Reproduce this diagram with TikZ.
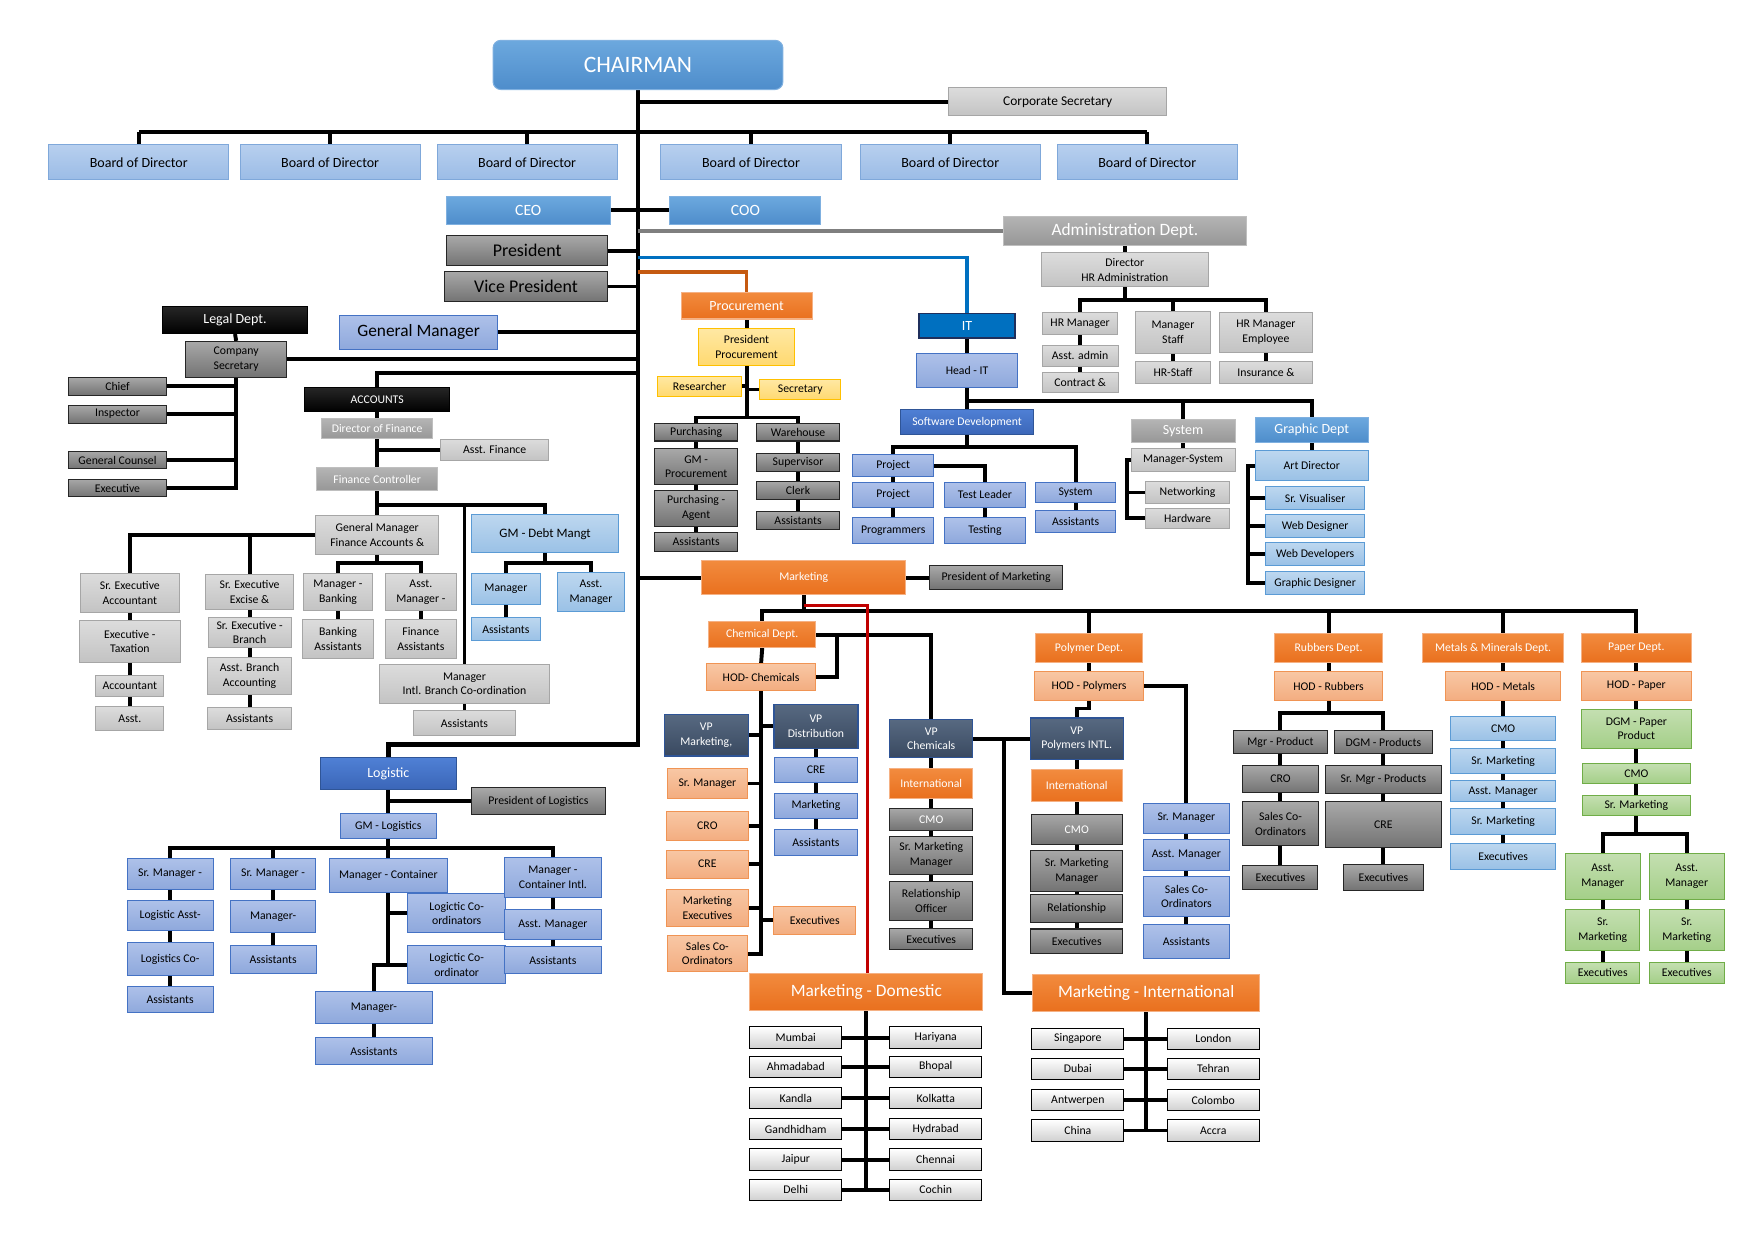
\documentclass[tikz,border=0pt]{standalone}
\usepackage{fontspec}
\setmainfont{Carlito}
\usetikzlibrary{calc}
\pgfdeclarelayer{bg}
\pgfsetlayers{bg,main}
\definecolor{bodT}{HTML}{B7CFEE}\definecolor{bodB}{HTML}{9BBCE6}\definecolor{bodD}{HTML}{7FA8DA}
\definecolor{chT}{HTML}{6CA8DE}\definecolor{chB}{HTML}{4E8DCB}\definecolor{chD}{HTML}{7FB0E0}
\definecolor{dgT}{HTML}{A8A8A8}\definecolor{dgB}{HTML}{737373}\definecolor{dgD}{HTML}{262626}
\definecolor{mgT}{HTML}{B4B4B4}\definecolor{mgB}{HTML}{979797}\definecolor{mgD}{HTML}{BFBFBF}
\definecolor{lgT}{HTML}{DCDCDC}\definecolor{lgB}{HTML}{C3C3C3}\definecolor{lgD}{HTML}{A6A6A6}
\definecolor{peT}{HTML}{AEC1E9}\definecolor{peB}{HTML}{8EA8DC}\definecolor{peD}{HTML}{4472C4}
\definecolor{roT}{HTML}{4F80D5}\definecolor{roB}{HTML}{3B66B8}\definecolor{roD}{HTML}{2F5597}
\definecolor{itF}{HTML}{0070C0}\definecolor{itD}{HTML}{1F2F5C}
\definecolor{orT}{HTML}{F28B3E}\definecolor{orB}{HTML}{E9701E}\definecolor{orD}{HTML}{F5B184}
\definecolor{loT}{HTML}{F8C7A4}\definecolor{loB}{HTML}{F3AD80}\definecolor{loD}{HTML}{F09454}
\definecolor{yeT}{HTML}{FFE8A3}\definecolor{yeB}{HTML}{FFD970}\definecolor{yeD}{HTML}{FFC000}
\definecolor{nvT}{HTML}{576981}\definecolor{nvB}{HTML}{394960}\definecolor{nvD}{HTML}{2E5496}
\definecolor{skT}{HTML}{BDD7EF}\definecolor{skB}{HTML}{9AC1E6}\definecolor{skD}{HTML}{5B9BD5}
\definecolor{grT}{HTML}{C4DFB1}\definecolor{grB}{HTML}{A4CF88}\definecolor{grD}{HTML}{70AD47}
\definecolor{ciB}{HTML}{D0D0D0}\definecolor{bkT}{HTML}{262626}
\definecolor{admL}{HTML}{7F7F7F}\definecolor{prL}{HTML}{C55A11}\definecolor{redL}{HTML}{C00000}
\tikzset{
  sz/.style 2 args={minimum width=#1pt,minimum height=#2pt},
  bx/.style={draw,rectangle,inner sep=0pt,align=center,line width=0.9pt,font=\fontsize{10.5}{13}\selectfont},
  fM/.style={font=\fontsize{12.5}{15}\selectfont},
  fN/.style={font=\fontsize{14}{16}\selectfont},
  fL/.style={font=\fontsize{15.5}{18}\selectfont},
  shd/.style n args={3}{top color=#1,bottom color=#2,draw=#3},
  bod/.style={bx,shd={bodT}{bodB}{bodD},fM},
  chairb/.style={bx,shd={chT}{chB}{chD},text=white},
  dgray/.style={bx,shd={dgT}{dgB}{dgD}},
  dgrayW/.style={dgray,text=white},
  mgray/.style={bx,shd={mgT}{mgB}{mgD},text=white},
  lgray/.style={bx,shd={lgT}{lgB}{lgD}},
  peri/.style={bx,shd={peT}{peB}{peD}},
  royal/.style={bx,shd={roT}{roB}{roD},text=white},
  itb/.style={bx,fill=itF,draw=itD,line width=1.3pt,text=white},
  orng/.style={bx,shd={orT}{orB}{orD},text=white},
  lorng/.style={bx,shd={loT}{loB}{loD}},
  yel/.style={bx,shd={yeT}{yeB}{yeD}},
  navy/.style={bx,shd={nvT}{nvB}{nvD},text=white,line width=1.2pt},
  sky/.style={bx,shd={skT}{skB}{skD}},
  grn/.style={bx,shd={grT}{grB}{grD}},
  city/.style={bx,shd={white}{ciB}{black},sz={82}{19}},
  blk/.style={bx,shd={bkT}{black}{black},text=white},
  ln/.style={line width=3.5pt,draw=black},
  lnG/.style={line width=3.5pt,draw=admL},
  lnB/.style={line width=3pt,draw=itF},
  lnO/.style={line width=3pt,draw=prL},
  lnR/.style={line width=3pt,draw=redL}
}
\begin{document}
\begin{tikzpicture}[x=1pt,y=-1pt]
\useasboundingbox (0,0) rectangle (1568,1109);
\begin{pgfonlayer}{bg}
\fill[white] (0,0) rectangle (1568,1109);
\end{pgfonlayer}
% ---------- top ----------
\node[chairb,sz={259}{44},rounded corners=7pt,font=\fontsize{21}{24}\selectfont] (chair) at (570,58) {CHAIRMAN};
\node[lgray,sz={195}{25},font=\fontsize{12}{14}\selectfont] (corp) at (945,91) {Corporate Secretary};
\foreach \i/\x in {1/124,2/295,3/471,4/671,5/849,6/1025}
  \node[bod,sz={161}{31}] (bod\i) at (\x,145) {Board of Director};
\node[chairb,sz={146}{25},fN] (ceo) at (472,188) {CEO};
\node[chairb,sz={135}{25},fN] (coo) at (666,188) {COO};
\node[mgray,sz={217}{26},fL] (adm) at (1005,206) {Administration Dept.};
\node[dgray,sz={144}{27},font=\fontsize{16}{18}\selectfont] (pres) at (471,224) {President};
\node[dgray,sz={145}{27},font=\fontsize{16}{18}\selectfont] (vp) at (470,256) {Vice President};
\coordinate (tb) at (570,665);
\coordinate (bbus) at (570,118);
\coordinate (itj) at (570,230);
\coordinate (prj) at (570,243);
\coordinate (accj) at (570,333);
% ---------- procurement ----------
\node[orng,sz={117}{24},fM] (proc) at (667,273) {Procurement};
\node[yel,sz={85}{33}] (pp) at (667,310) {President\\Procurement};
\node[yel,sz={75}{18}] (res) at (625,345) {Researcher};
\node[yel,sz={72}{18}] (sec) at (715,348) {Secretary};
\coordinate (pbus) at (667,373);
\node[dgray,sz={74}{16}] (purch) at (622,386) {Purchasing};
\node[dgray,sz={74}{32}] (gmp) at (622,417) {GM -\\Procurement};
\node[dgray,sz={74}{32}] (pag) at (622,454) {Purchasing -\\Agent};
\node[dgray,sz={74}{17}] (pas) at (622,484) {Assistants};
\node[dgray,sz={74}{16}] (wh) at (713,386) {Warehouse};
\node[dgray,sz={74}{16}] (sup) at (713,413) {Supervisor};
\node[dgray,sz={74}{16}] (clerk) at (713,438) {Clerk};
\node[dgray,sz={74}{16}] (was) at (713,465) {Assistants};
% ---------- IT ----------
\node[itb,sz={86}{22},fM] (it) at (864,291) {IT};
\node[peri,sz={91}{31}] (hit) at (864,331) {Head - IT};
\coordinate (itbus) at (864,358);
\node[royal,sz={119}{23}] (sd) at (864,377) {Software Development};
\coordinate (sdbus) at (864,399);
\node[peri,sz={72}{20}] (proj1) at (798,416) {Project};
\node[peri,sz={72}{22}] (proj2) at (798,442) {Project};
\node[peri,sz={72}{23}] (prog) at (798,474) {Programmers};
\node[peri,sz={73}{22}] (tl) at (880,442) {Test Leader};
\node[peri,sz={73}{23}] (tst) at (880,474) {Testing};
\node[peri,sz={72}{18}] (sysb) at (961,440) {System};
\node[peri,sz={72}{20}] (sysa) at (961,466) {Assistants};
% ---------- administration ----------
\node[lgray,sz={149}{30}] (dhr) at (1005,241) {Director\\HR Administration};
\coordinate (hrbus) at (1005,268);
\node[lgray,sz={67}{20}] (hrm) at (965,289) {HR Manager};
\node[lgray,sz={68}{18}] (aad) at (965,318) {Asst. admin};
\node[lgray,sz={68}{18}] (con) at (965,342) {Contract \&};
\node[lgray,sz={67}{37}] (mst) at (1048,297) {Manager\\Staff};
\node[lgray,sz={67}{20}] (hrs) at (1048,333) {HR-Staff};
\node[lgray,sz={83}{36}] (hre) at (1131,297) {HR Manager\\Employee};
\node[lgray,sz={83}{20}] (ins) at (1131,333) {Insurance \&};
\node[mgray,sz={93}{20},fM] (sysg) at (1057,385) {System};
\node[lgray,sz={93}{21}] (msys) at (1057,411) {Manager-System};
\node[lgray,sz={75}{19}] (net) at (1061,440) {Networking};
\node[lgray,sz={75}{18}] (hw) at (1061,463) {Hardware};
\coordinate (sv) at (1007,463);
\node[chairb,sz={101}{22},fM] (gd) at (1172,384) {Graphic Dept};
\node[sky,sz={101}{27}] (ad) at (1172,416) {Art Director};
\node[sky,sz={89}{21}] (svis) at (1175,445) {Sr. Visualiser};
\node[sky,sz={89}{21}] (wd) at (1175,470) {Web Designer};
\node[sky,sz={89}{20}] (wdev) at (1175,495) {Web Developers};
\node[sky,sz={89}{20}] (gdes) at (1175,521) {Graphic Designer};
\coordinate (gv) at (1115,521);
% ---------- legal ----------
\node[blk,sz={129}{24},fM] (legal) at (210,286) {Legal Dept.};
\node[dgray,sz={90}{32}] (csec) at (211,321) {Company\\Secretary};
\node[peri,sz={141}{31},fL] (gm) at (374,297) {General Manager};
\node[dgray,sz={87}{16}] (chief) at (105,345) {Chief};
\node[dgray,sz={87}{16}] (insp) at (105,370) {Inspector};
\node[dgray,sz={87}{16}] (gcoun) at (105,411) {General Counsel};
\node[dgray,sz={87}{16}] (exe) at (105,436) {Executive};
\coordinate (lv) at (211,436);
% ---------- accounts ----------
\node[blk,sz={130}{22}] (acc) at (337,357) {ACCOUNTS};
\node[mgray,sz={99}{18}] (dof) at (337,383) {Director of Finance};
\node[lgray,sz={96}{19}] (af) at (442,402) {Asst. Finance};
\node[mgray,sz={108}{20}] (fc) at (337,428) {Finance Controller};
\coordinate (fbus) at (337,451);
\node[lgray,sz={110}{34}] (gmfa) at (337,478) {General Manager\\Finance Accounts \&};
\node[sky,sz={131}{34},font=\fontsize{11.5}{13}\selectfont] (gmd) at (487,477) {GM - Debt Mangt};
\node[lgray,sz={88}{35}] (sea) at (116,530) {Sr. Executive\\Accountant};
\node[lgray,sz={90}{37}] (ext) at (116,573) {Executive -\\Taxation};
\node[lgray,sz={61}{19}] (acct) at (116,613) {Accountant};
\node[lgray,sz={61}{21}] (asst) at (116,642) {Asst.};
\node[lgray,sz={78}{31}] (sex) at (223,529) {Sr. Executive\\Excise \&};
\node[lgray,sz={74}{27}] (seb) at (223,565) {Sr. Executive -\\Branch};
\node[lgray,sz={75}{33}] (aba) at (223,604) {Asst. Branch\\Accounting};
\node[lgray,sz={75}{19}] (fas) at (223,642) {Assistants};
\coordinate (gbus) at (337,503);
\node[lgray,sz={62}{33}] (mb) at (302,529) {Manager -\\Banking};
\node[lgray,sz={63}{35}] (ba) at (302,571) {Banking\\Assistants};
\node[lgray,sz={64}{33}] (am) at (376,529) {Asst.\\Manager -};
\node[lgray,sz={63}{35}] (fa) at (376,571) {Finance\\Assistants};
\node[lgray,sz={151}{35}] (mintl) at (415,611) {Manager\\Intl. Branch Co-ordination};
\node[lgray,sz={92}{23}] (mia) at (415,646) {Assistants};
\coordinate (dbus) at (487,503);
\node[sky,sz={62}{28}] (dm) at (452,526) {Manager};
\node[sky,sz={60}{35}] (dam) at (528,529) {Asst.\\Manager};
\node[sky,sz={62}{21}] (das) at (452,562) {Assistants};
% ---------- logistics ----------
\node[royal,sz={122}{28},fM] (logi) at (347,691) {Logistic};
\node[dgray,sz={120}{24}] (pol) at (481,716) {President of Logistics};
\node[peri,sz={86}{23}] (gml) at (347,738) {GM - Logistics};
\coordinate (lbus) at (347,758);
\node[peri,sz={77}{28}] (lm1) at (152,781) {Sr. Manager -};
\node[peri,sz={77}{27}] (la1) at (152,818) {Logistic Asst-};
\node[peri,sz={77}{29}] (lc1) at (152,857) {Logistics Co-};
\node[peri,sz={77}{24}] (las1) at (152,893) {Assistants};
\node[peri,sz={76}{28}] (lm2) at (244,781) {Sr. Manager -};
\node[peri,sz={76}{29}] (lmt) at (244,819) {Manager-};
\node[peri,sz={77}{25}] (las2) at (244,857) {Assistants};
\node[peri,sz={105}{30}] (lm3) at (347,782) {Manager - Container};
\node[peri,sz={87}{35}] (lco1) at (408,816) {Logictic Co-\\ordinators};
\node[peri,sz={87}{34}] (lco2) at (408,862) {Logictic Co-\\ordinator};
\coordinate (lj) at (347,862);
\node[peri,sz={104}{29}] (mw) at (334,900) {Manager-};
\node[peri,sz={104}{25}] (mwa) at (334,939) {Assistants};
\node[peri,sz={86}{36}] (lm4) at (494,784) {Manager -\\Container Intl.};
\node[peri,sz={87}{27}] (lam) at (494,826) {Asst. Manager};
\node[peri,sz={87}{24}] (las4) at (494,858) {Assistants};
% ---------- marketing ----------
\node[orng,sz={182}{31}] (mkt) at (718,516) {Marketing};
\node[dgray,sz={119}{21}] (pom) at (890,516) {President of Marketing};
\coordinate (mbus) at (718,546);
\coordinate (rj) at (775,541);
\node[orng,sz={96}{23}] (chem) at (681,567) {Chemical Dept.};
\coordinate (cj) at (748,567);
\node[lorng,sz={98}{24}] (hodc) at (680,605) {HOD- Chemicals};
\node[navy,sz={75}{37}] (vpm) at (631,657) {VP\\Marketing,};
\node[navy,sz={75}{39}] (vpd) at (729,649) {VP\\Distribution};
\node[lorng,sz={71}{26}] (srm) at (632,700) {Sr. Manager};
\node[lorng,sz={73}{26}] (cro) at (632,738) {CRO};
\node[lorng,sz={73}{25}] (cre) at (632,772) {CRE};
\node[lorng,sz={73}{33}] (mex) at (632,811) {Marketing\\Executives};
\node[lorng,sz={72}{32}] (sco) at (632,852) {Sales Co-\\Ordinators};
\node[lorng,sz={73}{25}] (exs) at (728,822) {Executives};
\node[peri,sz={74}{23}] (cre2) at (729,688) {CRE};
\node[peri,sz={74}{22}] (mk2) at (729,720) {Marketing};
\node[peri,sz={74}{23}] (as2) at (729,753) {Assistants};
\node[navy,sz={74}{34}] (vpc) at (832,660) {VP\\Chemicals};
\node[orng,sz={74}{26}] (int1) at (832,700) {International};
\node[dgrayW,sz={74}{20}] (cmo1) at (832,732) {CMO};
\node[dgray,sz={74}{34}] (smm1) at (832,764) {Sr. Marketing\\Manager};
\node[dgray,sz={74}{35}] (ro1) at (832,805) {Relationship\\Officer};
\node[dgray,sz={74}{19}] (ex1) at (832,839) {Executives};
\coordinate (pj) at (897,887);
\node[orng,sz={96}{26}] (poly) at (973,579) {Polymer Dept.};
\node[lorng,sz={97}{26}] (hodp) at (973,613) {HOD - Polymers};
\coordinate (pjog) at (962,633);
\node[navy,sz={83}{37}] (vpp) at (962,660) {VP\\Polymers INTL.};
\node[orng,sz={81}{29}] (int2) at (962,702) {International};
\node[dgrayW,sz={81}{27}] (cmo2) at (962,741) {CMO};
\node[dgray,sz={82}{37}] (smm2) at (962,778) {Sr. Marketing\\Manager};
\node[dgray,sz={82}{25}] (rel2) at (962,812) {Relationship};
\node[dgray,sz={82}{22}] (ex2) at (962,841) {Executives};
\node[peri,sz={77}{27}] (psm) at (1060,731) {Sr. Manager};
\node[peri,sz={77}{28}] (pam) at (1060,764) {Asst. Manager};
\node[peri,sz={77}{35}] (psc) at (1060,801) {Sales Co-\\Ordinators};
\node[peri,sz={77}{30}] (pas2) at (1060,841) {Assistants};
\node[orng,sz={208}{33},fL] (md) at (774,886) {Marketing - Domestic};
\node[orng,sz={203}{33},fL] (mi) at (1024,887) {Marketing - International};
\foreach \n/\t/\y in {1/Mumbai/927,2/Ahmadabad/953,3/Kandla/981,4/Gandhidham/1009,5/Jaipur/1036,6/Delhi/1063}
  \node[city] (d\n) at (711,\y) {\t};
\foreach \n/\t/\y in {1/Hariyana/927,2/Bhopal/953,3/Kolkatta/981,4/Hydrabad/1009,5/Chennai/1036,6/Cochin/1063}
  \node[city] (e\n) at (836,\y) {\t};
\foreach \n/\t/\y in {1/Singapore/928,2/Dubai/955,3/Antwerpen/983,4/China/1010}
  \node[city] (i\n) at (963,\y) {\t};
\foreach \n/\t/\y in {1/London/928,2/Tehran/955,3/Colombo/983,4/Accra/1010}
  \node[city] (j\n) at (1084,\y) {\t};
% rubbers
\node[orng,sz={97}{26}] (rub) at (1187,579) {Rubbers Dept.};
\node[lorng,sz={97}{26}] (hodr) at (1187,613) {HOD - Rubbers};
\coordinate (rbus) at (1187,637);
\node[dgray,sz={84}{21}] (mgp) at (1144,663) {Mgr - Product};
\node[dgray,sz={88}{21}] (dgmp) at (1236,663) {DGM - Products};
\node[dgray,sz={68}{24}] (rcro) at (1144,696) {CRO};
\node[dgray,sz={68}{39}] (rsco) at (1144,736) {Sales Co-\\Ordinators};
\node[dgray,sz={67}{22}] (rex1) at (1144,784) {Executives};
\node[dgray,sz={104}{25}] (smp) at (1236,696) {Sr. Mgr - Products};
\node[dgray,sz={104}{41}] (rcre) at (1236,737) {CRE};
\node[dgray,sz={72}{23}] (rex2) at (1236,784) {Executives};
% metals
\node[orng,sz={126}{26}] (metals) at (1334,579) {Metals \& Minerals Dept.};
\node[lorng,sz={103}{26}] (hodm) at (1343,613) {HOD - Metals};
\node[sky,sz={94}{22}] (mcmo) at (1343,651) {CMO};
\node[sky,sz={94}{23}] (msm1) at (1343,680) {Sr. Marketing};
\node[sky,sz={94}{19}] (mam) at (1343,707) {Asst. Manager};
\node[sky,sz={94}{23}] (msm2) at (1343,734) {Sr. Marketing};
\node[sky,sz={94}{23}] (mex2) at (1343,765) {Executives};
% paper
\node[orng,sz={98}{26}] (paper) at (1462,579) {Paper Dept.};
\node[lorng,sz={98}{26}] (hodpa) at (1462,613) {HOD - Paper};
\node[grn,sz={98}{35}] (dgmpp) at (1462,651) {DGM - Paper\\Product};
\node[grn,sz={97}{18}] (pcmo) at (1462,691) {CMO};
\node[grn,sz={97}{18}] (psmk) at (1462,720) {Sr. Marketing};
\coordinate (pbus2) at (1462,745);
\node[grn,sz={67}{41}] (pam1) at (1432,783) {Asst.\\Manager};
\node[grn,sz={67}{41}] (pam2) at (1507,783) {Asst.\\Manager};
\node[grn,sz={66}{37}] (psm1) at (1432,831) {Sr.\\Marketing};
\node[grn,sz={67}{37}] (psm2) at (1507,831) {Sr.\\Marketing};
\node[grn,sz={66}{19}] (pex1) at (1432,869) {Executives};
\node[grn,sz={67}{19}] (pex2) at (1507,869) {Executives};

% ================= connectors =================
\begin{pgfonlayer}{bg}
\draw[line width=4pt] (chair.south) -- (tb) -| (logi.north);
\draw[ln] (chair.south |- corp.west) -- (corp.west);
\draw[ln] (bod1.north |- bbus) -- (bod6.north |- bbus);
\foreach \i in {1,...,6} \draw[ln] (bod\i.north) -- (bod\i.north |- bbus);
\draw[ln] (ceo.east) -- (chair.south |- ceo.east);
\draw[ln] (chair.south |- coo.west) -- (coo.west);
\draw[ln] (pres.east) -- (chair.south |- pres.east);
\draw[ln] (vp.east) -- (chair.south |- vp.east);
\draw[ln] (gm.east) -- (chair.south |- gm.east);
\draw[ln] (csec.east) -- (chair.south |- csec.east);
\draw[ln] (accj) -| (acc.north);
\draw[ln] (chair.south |- mkt.west) -- (mkt.west);
% procurement
\draw[ln] (proc.south) -- (pp.north);
\draw[ln] (pp.south) -- (pbus);
\draw[ln] (purch.north) |- (pbus) -| (wh.north);
\draw[ln] (res.east) -- (pp.south |- res.east);
\draw[ln] (sec.west) -- (pp.south |- sec.west);
\draw[ln] (purch.south) -- (gmp.north);
\draw[ln] (gmp.south) -- (pag.north);
\draw[ln] (pag.south) -- (pas.north);
\draw[ln] (wh.south) -- (sup.north);
\draw[ln] (sup.south) -- (clerk.north);
\draw[ln] (clerk.south) -- (was.north);
% IT
\draw[ln] (it.south) -- (hit.north);
\draw[ln] (hit.south) -- (sd.north);
\draw[ln] (itbus) -| (gd.north);
\draw[ln] (sysg.north) -- (sysg.north |- itbus);
\draw[ln] (sd.south) -- (sdbus);
\draw[ln] (proj1.north) |- (sdbus) -| (sysb.north);
\draw[ln] (proj1.south) -- (proj2.north);
\draw[ln] (proj2.south) -- (prog.north);
\draw[ln] (proj1.east) -| (tl.north);
\draw[ln] (tl.south) -- (tst.north);
\draw[ln] (sysb.south) -- (sysa.north);
% admin
\draw[ln] (adm.south) -- (dhr.north);
\draw[ln] (dhr.south) -- (hrbus);
\draw[ln] (hrm.north) |- (hrbus) -| (hre.north);
\draw[ln] (mst.north) -- (mst.north |- hrbus);
\draw[ln] (hrm.south) -- (aad.north);
\draw[ln] (aad.south) -- (con.north);
\draw[ln] (mst.south) -- (hrs.north);
\draw[ln] (hre.south) -- (ins.north);
\draw[ln] (sysg.south) -- (msys.north);
\draw[ln] (msys.west) -| (sv) -- (hw.west);
\draw[ln] (net.west) -- (sv |- net.west);
\draw[ln] (gd.south) -- (ad.north);
\draw[ln] (ad.west) -| (gv) -- (gdes.west);
\draw[ln] (svis.west) -- (gv |- svis.west);
\draw[ln] (wd.west) -- (gv |- wd.west);
\draw[ln] (wdev.west) -- (gv |- wdev.west);
% legal
\draw[ln] (legal.south) -- (csec.north);
\draw[ln] (csec.south) -- (lv) -- (exe.east);
\draw[ln] (chief.east) -- (lv |- chief.east);
\draw[ln] (insp.east) -- (lv |- insp.east);
\draw[ln] (gcoun.east) -- (lv |- gcoun.east);
% accounts
\draw[ln] (acc.south) -- (dof.north);
\draw[ln] (dof.south) -- (fc.north);
\draw[ln] (af.west) -- (dof.south |- af.west);
\draw[ln] (fc.south) -- (fbus) -| (gmd.north);
\draw[ln] (mintl.north) -- (mintl.north |- fbus);
\draw[ln] (fbus) -- (gmfa.north);
\draw[ln] (gmfa.west) -| (sea.north);
\draw[ln] (sex.north) -- (sex.north |- gmfa.west);
\draw[ln] (sea.south) -- (ext.north);
\draw[ln] (ext.south) -- (acct.north);
\draw[ln] (acct.south) -- (asst.north);
\draw[ln] (sex.south) -- (seb.north);
\draw[ln] (seb.south) -- (aba.north);
\draw[ln] (aba.south) -- (fas.north);
\draw[ln] (gmfa.south) -- (gbus);
\draw[ln] (mb.north) |- (gbus) -| (am.north);
\draw[ln] (mb.south) -- (ba.north);
\draw[ln] (am.south) -- (fa.north);
\draw[ln] (mintl.south) -- (mia.north);
\draw[ln] (gmd.south) -- (dbus);
\draw[ln] (dm.north) |- (dbus) -| (dam.north);
\draw[ln] (dm.south) -- (das.north);
% logistics
\draw[ln] (logi.south) -- (gml.north);
\draw[ln] (pol.west) -- (logi.south |- pol.west);
\draw[ln] (gml.south) -- (lbus);
\draw[ln] (lm1.north) |- (lbus) -| (lm4.north);
\draw[ln] (lm2.north) -- (lm2.north |- lbus);
\draw[ln] (lm3.north) -- (lbus);
\draw[ln] (lm1.south) -- (la1.north);
\draw[ln] (la1.south) -- (lc1.north);
\draw[ln] (lc1.south) -- (las1.north);
\draw[ln] (lm2.south) -- (lmt.north);
\draw[ln] (lmt.south) -- (las2.north);
\draw[ln] (lm4.south) -- (lam.north);
\draw[ln] (lam.south) -- (las4.north);
\draw[ln] (lm3.south) -- (lj) -| (mw.north);
\draw[ln] (lco1.west) -- (lj |- lco1.west);
\draw[ln] (lco2.west) -- (lj);
\draw[ln] (mw.south) -- (mwa.north);
% marketing
\draw[ln] (mkt.east) -- (pom.west);
\draw[ln] (mkt.south) -- (mbus);
\draw[ln] (chem.north) |- (mbus) -| (paper.north);
\draw[ln] (poly.north) -- (poly.north |- mbus);
\draw[ln] (rub.north) -- (rub.north |- mbus);
\draw[ln] (hodm.north |- mbus) -- (hodm.north |- metals.north);
\draw[ln] (chem.east) -| (vpc.north);
\draw[ln] (hodc.east) -| (cj);
\draw[ln] (chem.south) -- (hodc.north);
\draw[ln] (hodc.south) -- (hodc.south |- sco.east) -- (sco.east);
\foreach \b in {vpm,srm,cro,cre,mex} \draw[ln] (\b.east) -- (hodc.south |- \b.east);
\foreach \b in {vpd,exs} \draw[ln] (\b.west) -- (hodc.south |- \b.west);
\draw[ln] (vpd.south) -- (cre2.north);
\draw[ln] (cre2.south) -- (mk2.north);
\draw[ln] (mk2.south) -- (as2.north);
\draw[ln] (vpc.south) -- (int1.north);
\draw[ln] (int1.south) -- (cmo1.north);
\draw[ln] (cmo1.south) -- (smm1.north);
\draw[ln] (smm1.south) -- (ro1.north);
\draw[ln] (ro1.south) -- (ex1.north);
\draw[ln] (vpc.east) -- (vpp.west);
\draw[ln] (pj |- vpc.east) -- (pj) -- (mi.west);
\draw[ln] (poly.south) -- (hodp.north);
\draw[ln] (hodp.south) |- (pjog) -- (vpp.north);
\draw[ln] (hodp.east) -| (psm.north);
\draw[ln] (vpp.south) -- (int2.north);
\draw[ln] (int2.south) -- (cmo2.north);
\draw[ln] (cmo2.south) -- (smm2.north);
\draw[ln] (smm2.south) -- (rel2.north);
\draw[ln] (rel2.south) -- (ex2.north);
\draw[ln] (psm.south) -- (pam.north);
\draw[ln] (pam.south) -- (psc.north);
\draw[ln] (psc.south) -- (pas2.north);
\draw[ln] (md.south) -- (md.south |- d6.east);
\foreach \n in {1,...,6} {\draw[ln] (d\n.east) -- (md.south |- d\n.east); \draw[ln] (e\n.west) -- (md.south |- e\n.west);}
\draw[ln] (mi.south) -- (mi.south |- i4.east);
\foreach \n in {1,...,4} {\draw[ln] (i\n.east) -- (mi.south |- i\n.east); \draw[ln] (j\n.west) -- (mi.south |- j\n.west);}
\draw[ln] (rub.south) -- (hodr.north);
\draw[ln] (hodr.south) -- (rbus);
\draw[ln] (mgp.north) |- (rbus) -| (dgmp.north);
\draw[ln] (mgp.south) -- (rcro.north);
\draw[ln] (rcro.south) -- (rsco.north);
\draw[ln] (rsco.south) -- (rex1.north);
\draw[ln] (dgmp.south) -- (smp.north);
\draw[ln] (smp.south) -- (rcre.north);
\draw[ln] (rcre.south) -- (rex2.north);
\draw[ln] (hodm.north |- metals.south) -- (hodm.north);
\draw[ln] (hodm.south) -- (mcmo.north);
\draw[ln] (mcmo.south) -- (msm1.north);
\draw[ln] (msm1.south) -- (mam.north);
\draw[ln] (mam.south) -- (msm2.north);
\draw[ln] (msm2.south) -- (mex2.north);
\draw[ln] (paper.south) -- (hodpa.north);
\draw[ln] (hodpa.south) -- (dgmpp.north);
\draw[ln] (dgmpp.south) -- (pcmo.north);
\draw[ln] (pcmo.south) -- (psmk.north);
\draw[ln] (psmk.south) -- (pbus2);
\draw[ln] (pam1.north) |- (pbus2) -| (pam2.north);
\draw[ln] (pam1.south) -- (psm1.north);
\draw[ln] (psm1.south) -- (pex1.north);
\draw[ln] (pam2.south) -- (psm2.north);
\draw[ln] (psm2.south) -- (pex2.north);
% coloured lines
\draw[lnG] (chair.south |- adm.west) -- (adm.west);
\draw[lnB] (itj) -| (it.north);
\draw[lnO] (prj) -| (proc.north);
\draw[lnR] (mkt.south |- rj) -- (rj) -- (rj |- md.north);
\end{pgfonlayer}
\end{tikzpicture}
\end{document}
